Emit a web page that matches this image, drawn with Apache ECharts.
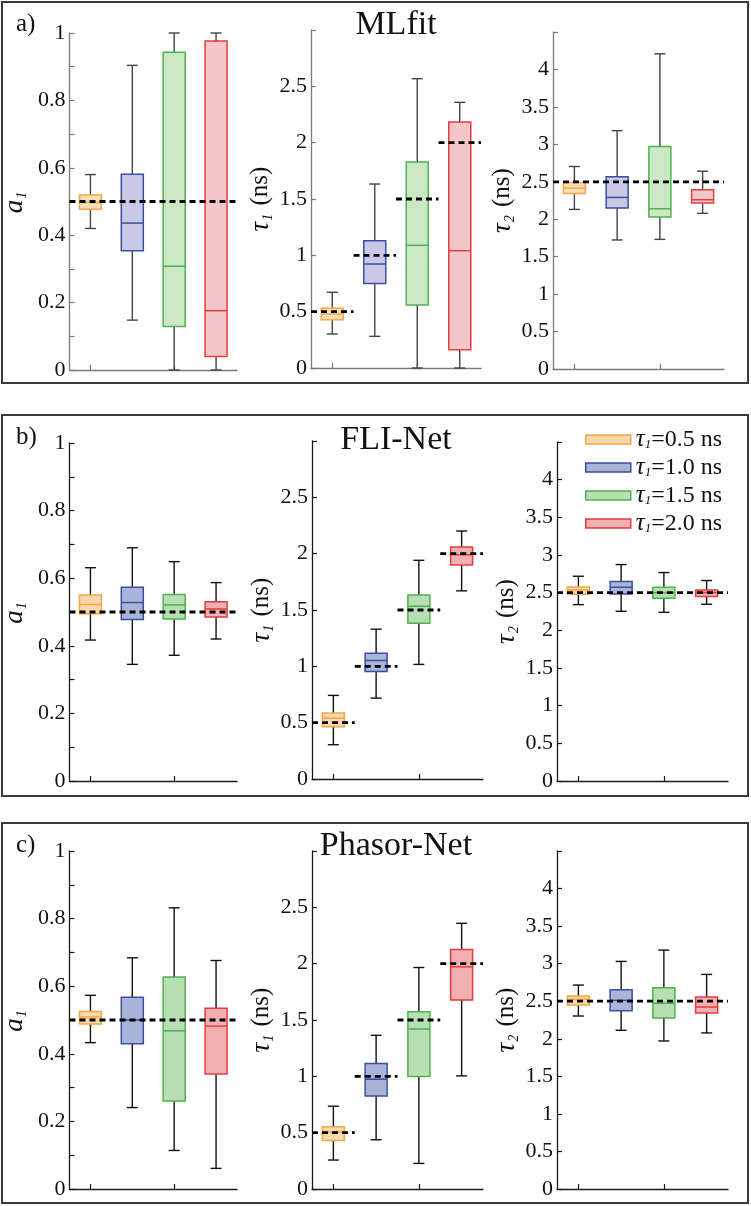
<!DOCTYPE html>
<html><head><meta charset="utf-8">
<script src="https://cdn.jsdelivr.net/npm/echarts@6/dist/echarts.min.js"></script>
<style>html,body{margin:0;padding:0;background:#fff}#c{width:751px;height:1206px}</style>
</head><body><div id="c"></div>
<script>
// ---------- DATA ----------
const groups = ['τ1=0.5 ns', 'τ1=1.0 ns', 'τ1=1.5 ns', 'τ1=2.0 ns'];
const panelTitles = ['MLfit', 'FLI-Net', 'Phasor-Net'];
const panelLetters = ['a)', 'b)', 'c)'];
// each box: [lowerWhisker, Q1, median, Q3, upperWhisker]
const mlfitA1   = [[0.42,0.477,0.497,0.519,0.58],[0.148,0.354,0.436,0.581,0.904],[0,0.129,0.308,0.943,1.0],[0,0.04,0.176,0.976,1.0]];
const mlfitTau1 = [[0.302,0.429,0.479,0.53,0.672],[0.281,0.751,0.923,1.13,1.633],[0,0.559,1.089,1.828,2.568],[0,0.163,1.041,2.183,2.358]];
const mlfitTau2 = [[2.131,2.344,2.415,2.49,2.704],[1.723,2.149,2.291,2.566,3.183],[1.731,2.029,2.14,2.97,4.209],[2.078,2.215,2.26,2.393,2.641]];
const fliA1     = [[0.417,0.495,0.522,0.55,0.631],[0.345,0.478,0.528,0.573,0.69],[0.372,0.479,0.521,0.552,0.649],[0.42,0.485,0.509,0.53,0.587]];
const fliTau1   = [[0.304,0.464,0.541,0.585,0.742],[0.718,0.954,1.052,1.117,1.33],[1.017,1.383,1.534,1.634,1.941],[1.67,1.9,1.99,2.06,2.201]];
const fliTau2   = [[2.341,2.479,2.537,2.576,2.718],[2.253,2.483,2.572,2.647,2.873],[2.239,2.426,2.5,2.572,2.767],[2.346,2.448,2.501,2.537,2.661]];
const phA1      = [[0.433,0.488,0.509,0.525,0.573],[0.241,0.43,0.5,0.567,0.684],[0.114,0.26,0.468,0.627,0.832],[0.061,0.34,0.482,0.535,0.676]];
const phTau1    = [[0.257,0.431,0.505,0.552,0.735],[0.437,0.826,0.974,1.113,1.364],[0.227,0.998,1.42,1.573,1.966],[1.004,1.677,1.972,2.125,2.358]];
const phTau2    = [[2.303,2.45,2.525,2.569,2.715],[2.113,2.374,2.512,2.653,3.03],[1.971,2.277,2.472,2.68,3.181],[2.078,2.343,2.423,2.556,2.857]];
const a1Ref   = [0.5];
const tau1Ref = [0.5, 1.0, 1.5, 2.0];
const tau2Ref = [2.5];
const yMax      = [1, 3, 4.5];
const yInterval = [0.1, 0.5, 0.5];

// ---------- STYLE / LAYOUT ----------
const FONT = '"Liberation Serif", "Times New Roman", serif';
const strokeCols = ['#F0A848', '#3A4FA0', '#4DB34D', '#E43D3D'];
const fillA  = ['#FBDDB6', '#C9C8E5', '#CBE8C5', '#F4C6CA'];
const fillBC = ['#FAD8AC', '#AAB3D8', '#B8DFB3', '#F1AFB3'];
const grids = [
  {left:66, top:33, width:171, height:337},
  {left:311, top:30, width:170, height:338},
  {left:553, top:32, width:171, height:337},
  {left:66, top:443, width:171, height:338},
  {left:312, top:441, width:171, height:338},
  {left:557, top:442, width:171, height:339},
  {left:66, top:851, width:171, height:338},
  {left:312, top:851, width:171, height:338},
  {left:557, top:851, width:171, height:338}
];
const panelBoxes = [[2,2,746,381],[2,415,746,381],[2,823,746,380]];
const titleY = [25, 440, 846];

const data = [[mlfitA1, mlfitTau1, mlfitTau2],[fliA1, fliTau1, fliTau2],[phA1, phTau1, phTau2]];
const refs = [a1Ref, tau1Ref, tau2Ref];

const chart = echarts.init(document.getElementById('c'), null, {renderer:'canvas'});

const xAxes = [], yAxes = [], series = [];
const nameRich = {
  i: {fontFamily: FONT, fontSize: 27, fontStyle: 'italic', color:'#111', lineHeight: 30},
  s: {fontFamily: FONT, fontSize: 14, fontStyle: 'italic', color:'#111', verticalAlign:'bottom', lineHeight: 30, padding:[0,2,0,1]},
  n: {fontFamily: FONT, fontSize: 25, color:'#111', lineHeight: 30}
};
const axisNames = ['{i|a}{s|1}', '{i|τ}{s|1}{n| (ns)}', '{i|τ}{s|2}{n| (ns)}'];
const nameGaps = [40, 34, 32];

function fmt(m){
  return function(v){
    if (m === 0) { const k = Math.round(v*10); return k % 2 === 0 ? String(k/10) : ''; }
    if (v >= yMax[m] - 1e-9) return '';
    return String(Math.round(v*10)/10);
  };
}

for (let p = 0; p < 3; p++) {
  const axisCol = p === 0 ? '#7a7a7a' : '#1a1a1a';
  const whiskCol = p === 0 ? '#444' : '#111';
  const fills = p === 0 ? fillA : fillBC;
  for (let m = 0; m < 3; m++) {
    const gi = p*3 + m;
    xAxes.push({
      type:'category', gridIndex: gi, data: groups, boundaryGap: true,
      axisLine:{show:true, lineStyle:{color:axisCol, width:1.3}},
      axisTick:{show:true, inside:true, length:5, alignWithLabel:true, lineStyle:{color:axisCol, width:1.2}},
      axisLabel:{show:false}, splitLine:{show:false}
    });
    yAxes.push({
      type:'value', gridIndex: gi, min:0, max:yMax[m], interval:yInterval[m],
      name: axisNames[m], nameLocation:'middle', nameRotate:90, nameGap: nameGaps[m],
      nameTextStyle:{rich: nameRich},
      axisLine:{show:true, lineStyle:{color:axisCol, width:1.3}},
      axisTick:{show:true, inside:true, length:5, lineStyle:{color:axisCol, width:1.2}},
      axisLabel:{show:true, margin:4, fontFamily:FONT, fontSize:22, color:'#111', formatter: fmt(m), showMaxLabel:true},
      splitLine:{show:false}
    });
    for (let g = 0; g < 4; g++) {
      const stroke = strokeCols[g], fill = fills[g];
      series.push({
        type:'custom', name: groups[g], xAxisIndex: gi, yAxisIndex: gi,
        encode:{x:0, y:[1,2,3,4,5]},
        data: [[g].concat(data[p][m][g])],
        z: 3, silent: true,
        renderItem: function(params, api){
          const x = api.value(0);
          const lo = api.coord([x, api.value(1)]);
          const q1 = api.coord([x, api.value(2)]);
          const md = api.coord([x, api.value(3)]);
          const q3 = api.coord([x, api.value(4)]);
          const hi = api.coord([x, api.value(5)]);
          const cx = lo[0], bw = 22, cw = 11;
          const ws = {stroke: whiskCol, lineWidth: 1.4};
          return {type:'group', children:[
            {type:'line', shape:{x1:cx, y1:lo[1], x2:cx, y2:q1[1]}, style: ws},
            {type:'line', shape:{x1:cx, y1:q3[1], x2:cx, y2:hi[1]}, style: ws},
            {type:'line', shape:{x1:cx-cw/2, y1:lo[1], x2:cx+cw/2, y2:lo[1]}, style: ws},
            {type:'line', shape:{x1:cx-cw/2, y1:hi[1], x2:cx+cw/2, y2:hi[1]}, style: ws},
            {type:'rect', shape:{x:cx-bw/2, y:q3[1], width:bw, height:q1[1]-q3[1]}, style:{fill: fill, stroke: stroke, lineWidth:1.5}},
            {type:'line', shape:{x1:cx-bw/2, y1:md[1], x2:cx+bw/2, y2:md[1]}, style:{stroke: stroke, lineWidth:1.5}}
          ]};
        }
      });
    }
    // reference dashed lines
    const refData = refs[m].map((v, i) => [i, v]);
    const perBand = (m === 1);
    series.push({
      type:'custom', name:'ref', xAxisIndex: gi, yAxisIndex: gi,
      encode:{x:0, y:1}, data: refData, z: 10, silent:true,
      renderItem: function(params, api){
        const x = api.value(0);
        const pt = api.coord([x, api.value(1)]);
        let x1, x2;
        if (perBand) { const bw = api.size([1,0])[0]; x1 = pt[0]-bw/2; x2 = pt[0]+bw/2; }
        else { x1 = params.coordSys.x; x2 = params.coordSys.x + params.coordSys.width; }
        return {type:'line', shape:{x1:x1, y1:pt[1], x2:x2, y2:pt[1]},
          style:{stroke:'#000', lineWidth:2.8, lineDash:[6,4]}};
      }
    });
  }
}

const graphics = [];
panelBoxes.forEach((b, i) => {
  graphics.push({type:'rect', shape:{x:b[0], y:b[1], width:b[2], height:b[3]},
    style:{fill:'none', stroke:'#3a3a3a', lineWidth:2}, z:0, silent:true});
  graphics.push({type:'text', x:396, y:titleY[i], style:{text: panelTitles[i], font:'34px ' + FONT, fill:'#111', textAlign:'center', textVerticalAlign:'middle'}, z:5});
  graphics.push({type:'text', x:16, y:b[1]+22, style:{text: panelLetters[i], font:'25px ' + FONT, fill:'#111', textAlign:'left', textVerticalAlign:'middle'}, z:5});
});

chart.setOption({
  animation:false,
  backgroundColor:'#fff',
  grid: grids,
  xAxis: xAxes,
  yAxis: yAxes,
  series: series,
  graphic: graphics,
  legend: {
    show:true, orient:'vertical', left:580, top:422, itemWidth:45, itemHeight:9, itemGap:3,
    icon:'rect', selectedMode:false,
    data: groups.map((n, i) => ({name:n, itemStyle:{color: fillBC[i], borderColor: strokeCols[i], borderWidth:1.5}})),
    formatter: function(name){ return '{t|τ}{s|1}{n|' + name.slice(2) + '}'; },
    textStyle:{fontFamily:FONT, fontSize:24, color:'#111', rich:{
      t:{fontFamily:FONT, fontSize:25, fontStyle:'italic', color:'#111', lineHeight:24},
      s:{fontFamily:FONT, fontSize:13, fontStyle:'italic', color:'#111', verticalAlign:'bottom', lineHeight:24},
      n:{fontFamily:FONT, fontSize:24, color:'#111', lineHeight:24}
    }}
  }
});
</script>
</body></html>
